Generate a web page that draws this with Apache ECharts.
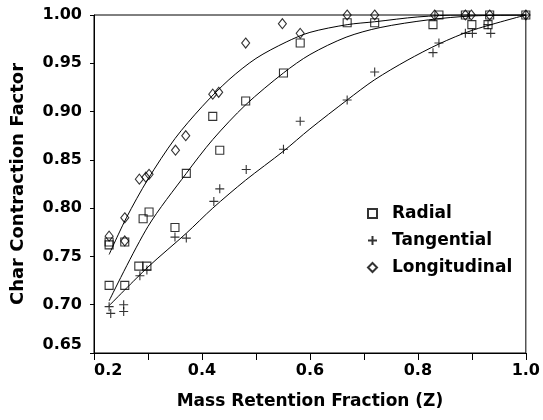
<!DOCTYPE html>
<html>
<head>
<meta charset="utf-8">
<script src="https://cdn.jsdelivr.net/npm/echarts@6/dist/echarts.min.js"></script>
<style>
html,body{margin:0;padding:0;background:#fff;}
#chart{width:543px;height:420px;}
</style>
</head>
<body>
<div id="chart"></div>
<script>
// ---- data ----
var seriesNames = ['Radial', 'Tangential', 'Longitudinal'];

var radialPoints = [
  [0.228,0.765],[0.228,0.762],[0.228,0.720],
  [0.257,0.765],[0.257,0.720],
  [0.283,0.740],[0.298,0.740],
  [0.291,0.789],[0.302,0.796],
  [0.350,0.780],
  [0.371,0.836],
  [0.420,0.895],[0.433,0.860],
  [0.481,0.911],
  [0.551,0.940],
  [0.582,0.971],
  [0.669,0.992],[0.720,0.992],
  [0.828,0.990],[0.839,1.000],
  [0.888,1.000],[0.900,0.990],
  [0.930,0.990],[0.933,1.000],
  [1.000,1.000]
];

var tangentialPoints = [
  [0.228,0.698],[0.231,0.691],
  [0.255,0.700],[0.255,0.693],
  [0.285,0.730],[0.298,0.736],
  [0.350,0.770],[0.371,0.769],
  [0.422,0.807],[0.433,0.820],
  [0.482,0.840],
  [0.551,0.861],
  [0.582,0.890],
  [0.669,0.912],
  [0.720,0.941],
  [0.828,0.961],[0.839,0.971],
  [0.888,0.981],[0.901,0.981],[0.935,0.981],
  [0.930,0.990],
  [1.000,1.000]
];

var longitudinalPoints = [
  [0.228,0.771],[0.257,0.766],
  [0.257,0.790],
  [0.284,0.830],[0.296,0.832],[0.302,0.835],
  [0.351,0.860],[0.370,0.875],
  [0.420,0.918],[0.431,0.920],
  [0.481,0.971],
  [0.549,0.991],
  [0.582,0.981],
  [0.669,1.000],[0.720,1.000],
  [0.831,1.000],[0.888,1.000],[0.899,1.000],[0.933,1.000],
  [1.000,1.000]
];

// fitted curves
var radialFit = [
  [0.228,0.704],[0.300,0.781],[0.371,0.836],[0.420,0.871],[0.481,0.907],
  [0.551,0.940],[0.600,0.959],[0.667,0.977],[0.730,0.987],[0.820,0.995],
  [0.900,0.999],[1.000,1.000]
];
var tangentialFit = [
  [0.228,0.699],[0.300,0.739],[0.371,0.774],[0.420,0.800],[0.481,0.829],
  [0.551,0.859],[0.600,0.882],[0.669,0.912],[0.720,0.933],
  [0.780,0.953],[0.839,0.970],[0.900,0.984],[1.000,1.000]
];
var longitudinalFit = [
  [0.228,0.752],[0.260,0.790],[0.300,0.830],[0.350,0.872],[0.400,0.905],
  [0.450,0.933],[0.500,0.955],[0.556,0.972],[0.600,0.982],
  [0.669,0.990],[0.720,0.993],[0.800,0.998],[0.880,1.000],[1.000,1.000]
];

var xTicks = {min: 0.2, max: 1.0, interval: 0.1};
var yTicks = {min: 0.65, max: 1.0, interval: 0.05};

// ---- chart ----
var FONT = 'DejaVu Sans';
var plusPath = 'path://M0,5L10,5M5,0L5,10';

function scatter(name, data, symbol, size) {
  return {
    name: name, type: 'scatter', data: data,
    symbol: symbol, symbolSize: size,
    itemStyle: {color: 'rgba(255,255,255,0)', borderColor: '#000', borderWidth: 1.1},
    z: 3
  };
}
function fit(name, data) {
  return {
    name: name, type: 'line', data: data, smooth: 0.3, symbol: 'none',
    lineStyle: {color: '#000', width: 1}, z: 2
  };
}

var chart = echarts.init(document.getElementById('chart'), null, {renderer: 'canvas'});
chart.setOption({
  animation: false,
  backgroundColor: '#fff',
  grid: {left: 94, right: 16, top: 15, bottom: 67, show: true, borderColor: '#000', borderWidth: 1},
  legend: {
    data: seriesNames,
    orient: 'vertical',
    left: 362, top: 200,
    itemWidth: 9, itemHeight: 9, itemGap: 10,
    textStyle: {fontFamily: FONT, fontWeight: 'bold', fontSize: 17, color: '#000', padding: [0,0,0,10]}
  },
  xAxis: {
    type: 'value', min: xTicks.min, max: xTicks.max, interval: xTicks.interval,
    name: 'Mass Retention Fraction (Z)', nameLocation: 'middle', nameGap: 40,
    nameTextStyle: {fontFamily: FONT, fontWeight: 'bold', fontSize: 17, color: '#000'},
    axisLine: {show: true, lineStyle: {color: '#000', width: 1}},
    axisTick: {show: true, inside: false, length: 7, lineStyle: {color: '#000'}},
    splitLine: {show: false},
    axisLabel: {
      fontFamily: FONT, fontWeight: 'bold', fontSize: 16, color: '#000', margin: 10,
      alignMinLabel: 'left',
      formatter: function (v) { return (Math.round(v * 10) % 2 === 0) ? v.toFixed(1) : ''; }
    }
  },
  yAxis: {
    type: 'value', min: yTicks.min, max: yTicks.max, interval: yTicks.interval,
    name: 'Char Contraction Factor', nameLocation: 'middle', nameGap: 67, nameRotate: 90,
    nameTextStyle: {fontFamily: FONT, fontWeight: 'bold', fontSize: 18, color: '#000'},
    axisLine: {show: true, lineStyle: {color: '#000', width: 1}},
    axisTick: {show: true, inside: false, length: 4, lineStyle: {color: '#000'}},
    splitLine: {show: false},
    axisLabel: {
      fontFamily: FONT, fontWeight: 'bold', fontSize: 16, color: '#000', margin: 12,
      verticalAlignMinLabel: 'bottom',
      formatter: function (v) { return v.toFixed(2); }
    }
  },
  series: [
    fit('Radial fit', radialFit),
    fit('Tangential fit', tangentialFit),
    fit('Longitudinal fit', longitudinalFit),
    scatter('Radial', radialPoints, 'rect', 8),
    scatter('Tangential', tangentialPoints, plusPath, 9),
    scatter('Longitudinal', longitudinalPoints, 'diamond', [8, 10])
  ]
});
</script>
</body>
</html>
